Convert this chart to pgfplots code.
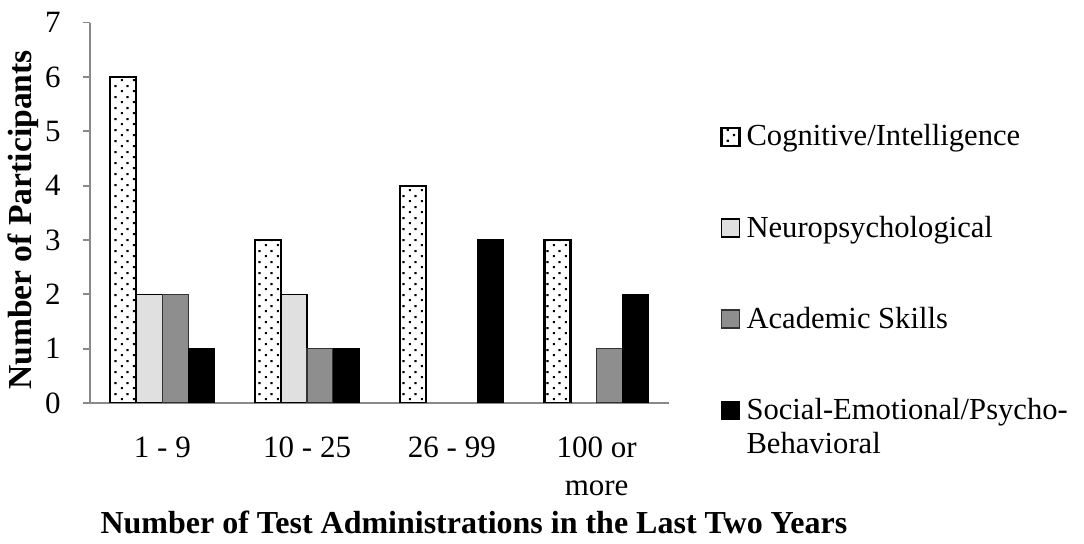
\documentclass[border=0pt]{standalone}
\usepackage{pgfplots}
\pgfplotsset{compat=1.18}
\usepackage{fontspec}
\setmainfont{Liberation Serif}
\usetikzlibrary{patterns.meta}
\tikzdeclarepattern{
  name=mydots,
  type=uncolored,
  bottom left={(0pt,0pt)},
  top right={(6pt,5.5pt)},
  tile size={(6pt,5.5pt)},
  code={
    \fill (0.5pt,0.5pt) rectangle (1.6pt,1.6pt);
    \fill (3.5pt,3.25pt) rectangle (4.6pt,4.35pt);
  }
}
\definecolor{axgray}{RGB}{137,137,137}
\definecolor{neuro}{RGB}{224,224,224}
\definecolor{acad}{RGB}{142,142,142}
\pgfplotsset{
  sqlegend/.style={legend image code/.code={\draw[##1] (0pt,-4.5pt) rectangle (9pt,4.5pt);}},
  sqlegendup/.style={legend image code/.code={\draw[##1] (0pt,4pt) rectangle (9pt,13pt);}},
}
\begin{document}
\begin{tikzpicture}
\path[use as bounding box] (-45pt,-70.5pt) rectangle (497pt,201.5pt);
\begin{axis}[
  scale only axis,
  width=289.5pt, height=190.2pt,
  xmin=-0.5, xmax=3.5, ymin=0, ymax=7,
  ybar=0pt, bar width=0.18,
  axis x line*=bottom, axis y line*=left,
  axis line style={axgray, line width=0.9pt},
  xtick={0,1,2,3},
  xticklabels={\strut 1 - 9, \strut 10 - 25, \strut 26 - 99, {\strut 100 or\\more}},
  xtick style={draw=none},
  ytick={0,1,...,7},
  ytick style={axgray, line width=0.9pt},
  tick align=outside,
  major tick length=3.5pt,
  /pgf/number format/assume math mode=true,
  ticklabel style={font=\fontsize{15.5}{19}\selectfont},
  yticklabel style={inner sep=0pt, xshift=-11pt},
  xticklabel style={align=center, inner sep=0pt, yshift=-10.5pt},
  xlabel={\textbf{Number of Test Administrations in the Last Two Years}},
  ylabel={\textbf{Number of Participants}},
  xlabel style={font=\fontsize{16}{19}\selectfont, at={(axis description cs:0.663,-0.313)}, anchor=center},
  ylabel style={font=\fontsize{16.8}{19}\selectfont, at={(axis description cs:-0.1157,0.481)}, anchor=center},
  legend style={draw=none, fill=none, inner sep=0pt, at={(axis description cs:1.088,0.733)}, anchor=north west,
    font=\fontsize{15.3}{17}\selectfont, row sep=33.5pt, column sep=3pt, nodes={inner sep=0pt}, cells={align=left}},
  legend cell align=left,
]
\addplot[draw=black, line width=1.1pt, fill=white, postaction={pattern=mydots}, sqlegend]
  coordinates {(0,6) (1,3) (2,4) (3,3)};
\addplot[draw=black, line width=0.7pt, fill=neuro, sqlegend]
  coordinates {(0,2) (1,2)};
\addplot[draw=black!80, line width=0.7pt, fill=acad, sqlegend]
  coordinates {(0,2) (1,1) (3,1)};
\addplot[draw=black, line width=0.5pt, fill=black, sqlegendup]
  coordinates {(0,1) (1,1) (2,3) (3,2)};
\legend{Cognitive/Intelligence, Neuropsychological, Academic Skills, {Social-Emotional/Psycho-\\Behavioral}}
\end{axis}
\end{tikzpicture}
\end{document}
